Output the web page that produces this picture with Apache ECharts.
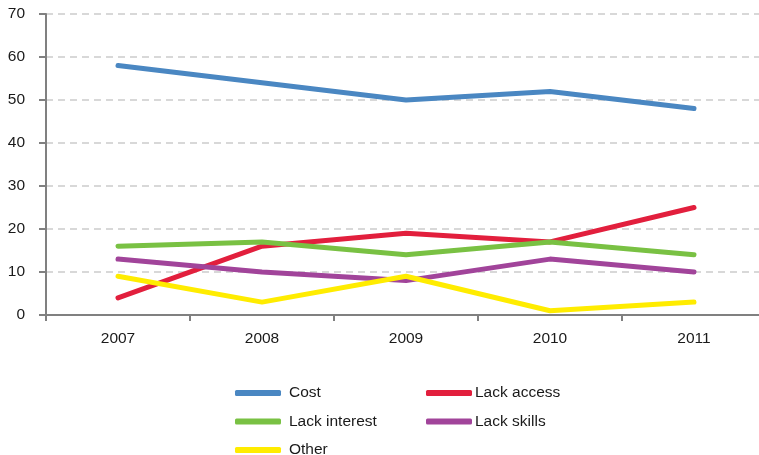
<!DOCTYPE html>
<html>
<head>
<meta charset="utf-8">
<script src="https://cdn.jsdelivr.net/npm/echarts@6/dist/echarts.min.js"></script>
<style>
  html, body { margin: 0; padding: 0; background: #fff; }
  #chart { width: 759px; height: 455px; }
</style>
</head>
<body>
<div id="chart"></div>
<script>
// categories + series values
const years = ['2007', '2008', '2009', '2010', '2011'];
const cost = [58, 54, 50, 52, 48];
const lackAccess = [4, 16, 19, 17, 25];
const lackInterest = [16, 17, 14, 17, 14];
const lackSkills = [13, 10, 8, 13, 10];
const other = [9, 3, 9, 1, 3];

const chart = echarts.init(document.getElementById('chart'));

function line(name, data, color) {
  return {
    name,
    type: 'line',
    data,
    symbol: 'none',
    lineStyle: { width: 5, color, cap: 'round', join: 'round' },
    itemStyle: { color },
  };
}

const FONT = 'Liberation Sans';
const legendText = { color: '#1a1a1a', fontSize: 15.5, fontFamily: FONT };

const option = {
  backgroundColor: '#fff',
  animation: false,
  textStyle: { fontFamily: FONT },
  // the plot runs a little past the right edge of the picture (5 bands of 144px)
  grid: { left: 46, top: 14, width: 720, height: 301, outerBoundsMode: 'none' },
  xAxis: {
    type: 'category',
    data: years,
    boundaryGap: true,
    axisLine: { lineStyle: { color: '#808080', width: 2 } },
    axisTick: { show: true, length: 6, lineStyle: { color: '#808080', width: 2 } },
    axisLabel: { color: '#1a1a1a', fontSize: 15.5, fontFamily: FONT, margin: 16 },
  },
  yAxis: {
    type: 'value',
    min: 0,
    max: 70,
    interval: 10,
    axisLine: { show: true, lineStyle: { color: '#808080', width: 2 } },
    axisTick: { show: true, length: 7, lineStyle: { color: '#808080', width: 2 } },
    axisLabel: { color: '#1a1a1a', fontSize: 15.5, fontFamily: FONT, margin: 21 },
    splitLine: { lineStyle: { color: '#cccccc', width: 1.5, type: [7, 5] } },
  },
  legend: [
    {
      orient: 'vertical',
      left: 230,
      top: 380,
      height: 80,
      itemWidth: 46,
      itemHeight: 6,
      itemGap: 12.5,
      icon: 'roundRect',
      textStyle: Object.assign({ padding: [0, 0, 0, 3] }, legendText),
      data: ['Cost', 'Lack interest', 'Other'],
    },
    {
      orient: 'vertical',
      left: 421,
      top: 380,
      height: 80,
      itemWidth: 46,
      itemHeight: 6,
      itemGap: 12.5,
      icon: 'roundRect',
      textStyle: Object.assign({ padding: [0, 0, 0, -2] }, legendText),
      data: ['Lack access', 'Lack skills'],
    },
  ],
  series: [
    line('Cost', cost, '#4a87c2'),
    line('Lack access', lackAccess, '#e21f3d'),
    line('Lack interest', lackInterest, '#79c143'),
    line('Lack skills', lackSkills, '#a1449a'),
    line('Other', other, '#ffec00'),
  ],
};

chart.setOption(option);
</script>
</body>
</html>
